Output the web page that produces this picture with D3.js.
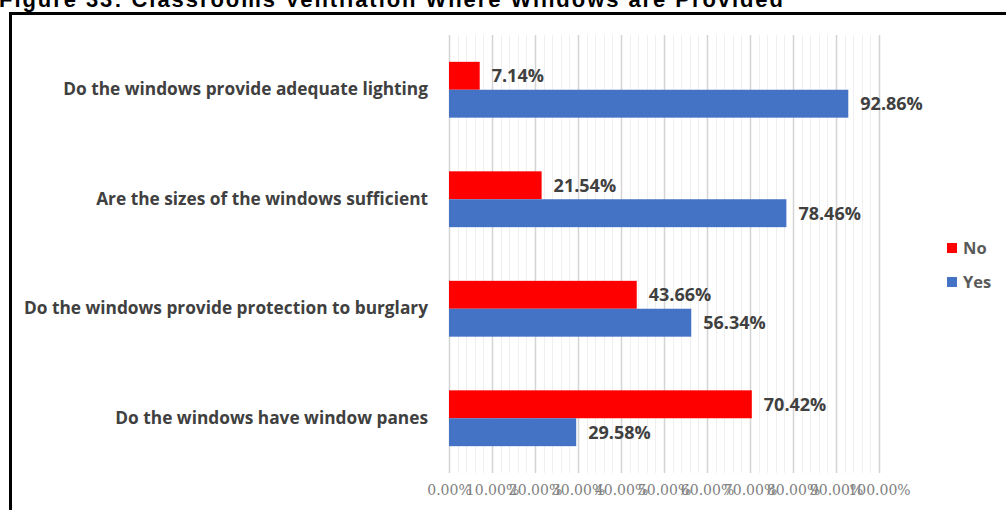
<!DOCTYPE html>
<html>
<head>
<meta charset="utf-8">
<script src="https://cdn.jsdelivr.net/npm/d3@7"></script>
<style>
  html, body { margin: 0; padding: 0; background: #fff; }
  svg { display: block; }
</style>
</head>
<body>
<svg id="chart" width="1006" height="510"></svg>
<script>
// Survey questions (top to bottom) and the share of answers per series
const categories = [
  "Do the windows provide adequate lighting",
  "Are the sizes of the windows sufficient",
  "Do the windows provide protection to burglary",
  "Do the windows have window panes"
];
const noValues  = [7.14, 21.54, 43.66, 70.42];
const yesValues = [92.86, 78.46, 56.34, 29.58];
const seriesNames = ["No", "Yes"];
const seriesColors = ["#ff0000", "#4472c4"];
const tickValues = [0, 10, 20, 30, 40, 50, 60, 70, 80, 90, 100];

const svg = d3.select("#chart");

// Figure caption, partly above the visible page
svg.append("text")
  .attr("x", -1).attr("y", 7)
  .attr("font-family", "Liberation Sans, Arial, sans-serif")
  .attr("font-weight", "bold")
  .attr("font-size", 22)
  .attr("fill", "#000")
  .attr("textLength", 784)
  .text("Figure 33: Classrooms Ventilation Where Windows are Provided");

// Chart frame
svg.append("rect")
  .attr("x", 10.5).attr("y", 13.5)
  .attr("width", 1010).attr("height", 520)
  .attr("fill", "none")
  .attr("stroke", "#000")
  .attr("stroke-width", 3);

const plot = { left: 449, right: 879, top: 35, bottom: 473 };

const x = d3.scaleLinear().domain([0, 100]).range([plot.left, plot.right]);
const y = d3.scaleBand().domain(categories).range([plot.top, plot.bottom])
  .paddingInner(0.49).paddingOuter(0.245);
const sub = d3.scaleBand().domain(seriesNames).range([0, y.bandwidth()]);

// Minor gridlines every 2%
const g = svg.append("g");
g.selectAll("line.minor")
  .data(d3.range(0, 101, 2).filter(v => v % 10 !== 0))
  .join("line")
  .attr("class", "minor")
  .attr("x1", d => Math.round(x(d)) + 0.5).attr("x2", d => Math.round(x(d)) + 0.5)
  .attr("y1", plot.top).attr("y2", plot.bottom)
  .attr("stroke", "#efefef").attr("stroke-width", 1);

// Major gridlines every 10%
g.selectAll("line.major")
  .data(tickValues)
  .join("line")
  .attr("class", "major")
  .attr("x1", d => Math.round(x(d)) + 0.5).attr("x2", d => Math.round(x(d)) + 0.5)
  .attr("y1", plot.top).attr("y2", plot.bottom)
  .attr("stroke", "#d4d4d4").attr("stroke-width", 1.5);

// Bars
const rows = categories.map((c, i) => ({ cat: c, vals: [noValues[i], yesValues[i]] }));
const groups = svg.selectAll("g.row").data(rows).join("g")
  .attr("class", "row")
  .attr("transform", d => `translate(0,${y(d.cat)})`);

groups.selectAll("rect")
  .data(d => d.vals.map((v, j) => ({ v, s: seriesNames[j], c: seriesColors[j] })))
  .join("rect")
  .attr("x", x(0))
  .attr("y", d => sub(d.s))
  .attr("width", d => x(d.v) - x(0))
  .attr("height", sub.bandwidth())
  .attr("fill", d => d.c);

// Value labels
groups.selectAll("text")
  .data(d => d.vals.map((v, j) => ({ v, s: seriesNames[j] })))
  .join("text")
  .attr("x", d => x(d.v) + 12)
  .attr("y", d => sub(d.s) + sub.bandwidth() / 2)
  .attr("dy", "0.36em")
  .attr("font-family", "Open Sans, Noto Sans, sans-serif")
  .attr("font-weight", "bold")
  .attr("font-size", 18)
  .attr("fill", "#404040")
  .text(d => d.v.toFixed(2) + "%");

// Category axis labels
const yAxis = d3.axisLeft(y).tickSize(0).tickPadding(21);
const ya = svg.append("g").attr("transform", `translate(${plot.left},0)`).call(yAxis);
ya.select(".domain").remove();
ya.selectAll("text")
  .attr("font-family", "Open Sans, Noto Sans, sans-serif")
  .attr("font-weight", "bold")
  .attr("font-size", 17.3)
  .attr("fill", "#404040");

// Value axis labels
const xAxis = d3.axisBottom(x).tickValues(tickValues).tickSize(0).tickPadding(12)
  .tickFormat(d => d.toFixed(2) + "%");
const xa = svg.append("g").attr("transform", `translate(0,${plot.bottom})`).call(xAxis);
xa.select(".domain").remove();
xa.selectAll("text")
  .attr("font-family", "DejaVu Serif, serif")
  .attr("font-size", 14)
  .attr("fill", "#7f7f7f");

// Legend
const legend = svg.append("g").attr("transform", "translate(947,248)");
const li = legend.selectAll("g").data(seriesNames).join("g")
  .attr("transform", (d, i) => `translate(0,${i * 34})`);
li.append("rect")
  .attr("x", 0).attr("y", -5)
  .attr("width", 10).attr("height", 10)
  .attr("fill", (d, i) => seriesColors[i]);
li.append("text")
  .attr("x", 16).attr("y", 0).attr("dy", "0.36em")
  .attr("font-family", "Open Sans, Noto Sans, sans-serif")
  .attr("font-weight", "bold")
  .attr("font-size", 16.5)
  .attr("fill", "#595959")
  .text(d => d);
</script>
</body>
</html>
